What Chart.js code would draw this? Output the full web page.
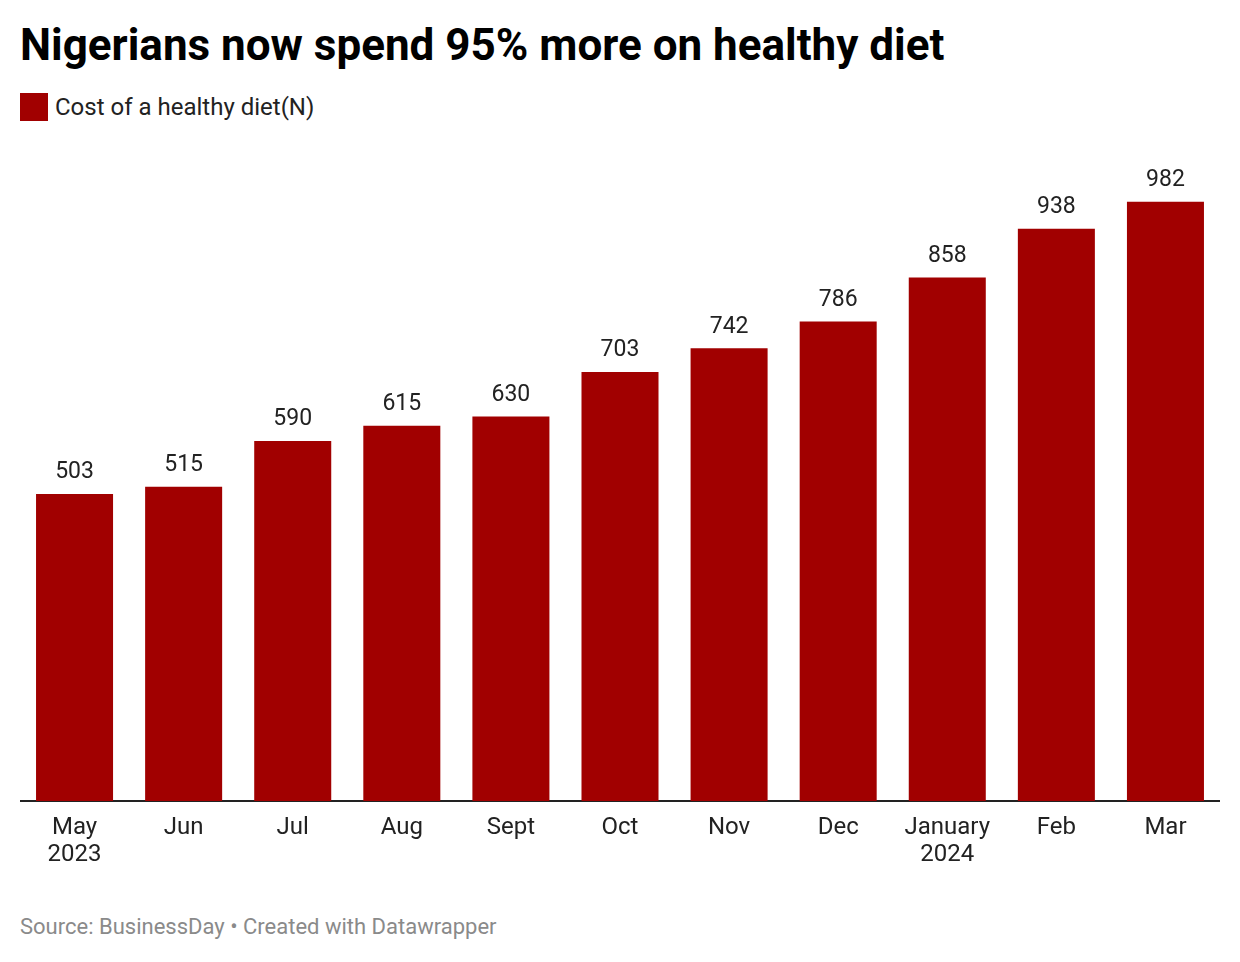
<!DOCTYPE html>
<html>
<head>
<meta charset="utf-8">
<script src="https://cdn.jsdelivr.net/npm/chart.js@4"></script>
<style>
  body { margin: 0; background: #fff; font-family: Roboto, sans-serif; width: 1240px; height: 962px; position: relative; overflow: hidden; }
  #title { position: absolute; left: 20px; top: 19px; font-size: 44px; font-weight: 700; color: #000; margin: 0; line-height: 52px; letter-spacing: 0px; }
  #legend { position: absolute; left: 20px; top: 93px; font-size: 24px; color: #222; display: flex; align-items: center; }
  #legend span.box { display: inline-block; width: 28px; height: 28px; background: #a10000; margin-right: 7px; }
  #wrap { position: absolute; left: 20px; top: 150px; width: 1200px; height: 720px; }
  #footer { position: absolute; left: 20px; top: 914px; font-size: 22px; color: #8a8a8a; }
</style>
</head>
<body>
<h1 id="title">Nigerians now spend 95% more on healthy diet</h1>
<div id="legend"><span class="box"></span>Cost of a healthy diet(N)</div>
<div id="wrap"><canvas id="dietChart"></canvas></div>
<div id="footer">Source: BusinessDay • Created with Datawrapper</div>
<script>
// Data
const months = [["May", "2023"], "Jun", "Jul", "Aug", "Sept", "Oct", "Nov", "Dec", ["January", "2024"], "Feb", "Mar"];
const dietCost = [503, 515, 590, 615, 630, 703, 742, 786, 858, 938, 982];

// Draws the value above each bar
const valueLabels = {
    id: "valueLabels",
    afterDatasetsDraw(chart) {
        const ctx = chart.ctx;
        const meta = chart.getDatasetMeta(0);
        ctx.save();
        ctx.font = "23px Roboto";
        ctx.fillStyle = "#222";
        ctx.textAlign = "center";
        ctx.textBaseline = "bottom";
        meta.data.forEach((bar, i) => {
            ctx.fillText(dietCost[i], bar.x, bar.y - 10);
        });
        ctx.restore();
    }
};

const ctx = document.getElementById("dietChart").getContext("2d");
const chart = new Chart(ctx, {
    type: "bar",
    data: {
        labels: months,
        datasets: [{
            label: "Cost of a healthy diet(N)",
            data: dietCost,
            backgroundColor: "#a10000",
            barPercentage: 0.706,
            categoryPercentage: 1
        }]
    },
    options: {
        responsive: true,
        maintainAspectRatio: false,
        animation: false,
        layout: { padding: 0 },
        plugins: {
            legend: { display: false },
            tooltip: { enabled: false }
        },
        scales: {
            x: {
                grid: { display: false, drawTicks: false },
                border: { display: true, color: "#222", width: 2 },
                ticks: {
                    color: "#222",
                    font: { family: "Roboto", size: 24, lineHeight: 1.15 },
                    padding: 13,
                    maxRotation: 0,
                    autoSkip: false
                },
                afterFit(scale) { scale.height = 69; }
            },
            y: {
                display: false,
                min: 0,
                max: 1067
            }
        }
    },
    plugins: [valueLabels]
});
</script>
</body>
</html>
